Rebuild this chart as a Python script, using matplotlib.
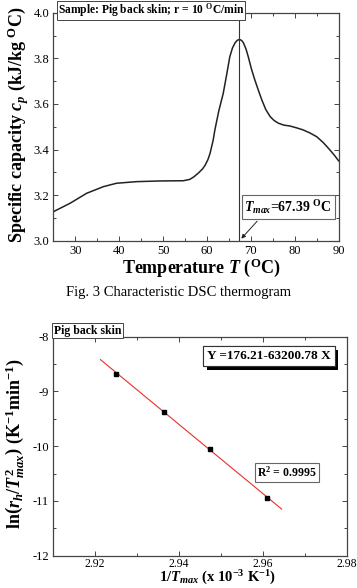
import matplotlib
matplotlib.use("Agg")
import matplotlib.pyplot as plt
import matplotlib.patheffects as pe
from matplotlib.ticker import MultipleLocator

plt.rcParams['font.family'] = ['Liberation Serif', 'DejaVu Serif']
plt.rcParams['mathtext.fontset'] = 'custom'
plt.rcParams['mathtext.rm'] = 'Liberation Serif:bold'
plt.rcParams['mathtext.it'] = 'Liberation Serif:italic:bold'
plt.rcParams['mathtext.bf'] = 'Liberation Serif:bold'
plt.rcParams['axes.unicode_minus'] = False

# DSC curve
temp = [25, 28.8, 32.6, 36.4, 39.4, 44.0, 49.3, 54.6, 56.1, 57.0, 58.0, 59.0,
        59.6, 60.2, 60.7, 61.4, 61.8, 62.7, 63.7, 64.5, 65.2, 65.8, 66.4,
        66.9, 67.4, 67.9, 68.3, 68.9, 69.4, 70.1, 70.9, 71.7, 72.5, 73.4,
        74.4, 75.3, 76.3, 77.5, 78.9, 80.4, 81.9, 83.5, 85.0, 86.5, 88.0,
        89.0, 90.0]
cp = [3.127, 3.164, 3.208, 3.237, 3.252, 3.259, 3.262, 3.263, 3.269, 3.28,
      3.296, 3.315, 3.332, 3.355, 3.383, 3.44, 3.486, 3.57, 3.646, 3.73,
      3.807, 3.845, 3.868, 3.879, 3.883, 3.878, 3.868, 3.84, 3.807, 3.755,
      3.705, 3.66, 3.617, 3.575, 3.544, 3.527, 3.515, 3.507, 3.503, 3.495,
      3.486, 3.472, 3.456, 3.43, 3.398, 3.375, 3.35]
t_max = 67.39

# Kissinger plot points
inv_t = [2.9250, 2.9365, 2.9473, 2.9611]
ln_rate = [-8.681, -9.370, -10.051, -10.952]
fit_a, fit_b = 176.21, -63200.78
fit_x = [2.9213, 2.9645]

fig = plt.figure(figsize=(3.57, 5.88), dpi=100)
W, H = 357, 588


def style_axes(ax):
    ax.tick_params(which='both', direction='in', top=True, right=True,
                   labelsize=9, width=0.7, color='#444444')
    ax.tick_params(which='major', length=3.5, pad=3)
    ax.tick_params(which='minor', length=2)
    for s in ax.spines.values():
        s.set_linewidth(0.9)
        s.set_color('#444444')


# ---- top panel: DSC thermogram ----
ax1 = fig.add_axes([53.3 / W, 1 - 240.7 / H, 285.4 / W, 228 / H])
ax1.plot(temp, cp, color='#222222', lw=1.1)
ax1.axvline(t_max, color='#333333', lw=0.8)
ax1.set_xlim(25, 90)
ax1.set_ylim(3.0, 4.0)
ax1.xaxis.set_major_locator(MultipleLocator(10))
ax1.xaxis.set_minor_locator(MultipleLocator(5))
ax1.yaxis.set_major_locator(MultipleLocator(0.2))
ax1.yaxis.set_minor_locator(MultipleLocator(0.1))
style_axes(ax1)

fig.text(58 / W, 1 - 1.5 / H, r'Sample: Pig back skin; r = 10 $^{\mathrm{O}}$C/min',
         fontsize=8.3, fontweight='bold', ha='left', va='top',
         bbox=dict(boxstyle='square,pad=0.06', fc='white', ec='#444444', lw=0.7))

ax1.annotate(r'$T_{max}$=67.39 $^{\mathrm{O}}$C', xy=(t_max, 3.0),
             xytext=(0.823, 0.148), textcoords='axes fraction',
             fontsize=10, fontweight='bold', ha='center', va='center',
             bbox=dict(boxstyle='square,pad=0.2', fc='white', ec='#666666', lw=0.8),
             arrowprops=dict(arrowstyle='-|>', color='#222222', lw=0.7,
                             mutation_scale=6, relpos=(0.2, 0.0)))

fig.text(18 / W, 1 - 125 / H,
         r'Specific capacity $c_p$ (kJ/kg $^{\mathrm{O}}$C)',
         rotation=90, fontsize=13, fontweight='bold', ha='center', va='center')
fig.text(201 / W, 1 - 268 / H, r'Temperature $T$ ($^{\mathrm{O}}$C)',
         fontsize=13, fontweight='bold', ha='center', va='center')
fig.text(0.5, 1 - 293 / H, 'Fig. 3 Characteristic DSC thermogram',
         fontsize=10.5, ha='center', va='center')

# ---- bottom panel: Kissinger plot ----
ax2 = fig.add_axes([53 / W, 1 - 555.7 / H, 293.7 / W, 219 / H])
fit_y = [fit_a + fit_b * x * 1e-3 for x in fit_x]
ax2.plot(fit_x, fit_y, color='#e8302a', lw=0.8)
ax2.plot(inv_t, ln_rate, 's', color='black', ms=3.5)
ax2.set_xlim(2.91, 2.98)
ax2.set_ylim(-12, -8)
ax2.xaxis.set_major_locator(MultipleLocator(0.02))
ax2.xaxis.set_minor_locator(MultipleLocator(0.01))
ax2.yaxis.set_major_locator(MultipleLocator(1))
ax2.yaxis.set_minor_locator(MultipleLocator(0.5))
style_axes(ax2)
ax2.tick_params(axis='x', which='major', pad=1.5, labelsize=8.5)

ax2.text(0.004, 1.0, 'Pig back skin', transform=ax2.transAxes,
         fontsize=8.5, fontweight='bold', ha='left', va='bottom',
         bbox=dict(boxstyle='square,pad=0.15', fc='white', ec='#444444', lw=0.7))

eq = ax2.text(0.736, 0.9105, 'Y =176.21-63200.78 X', transform=ax2.transAxes,
              fontsize=9.5, fontweight='bold', ha='center', va='center',
              bbox=dict(boxstyle='square,pad=0.3', fc='white', ec='#333333', lw=0.8))
eq.get_bbox_patch().set_path_effects(
    [pe.withSimplePatchShadow(offset=(2.5, -2.5), shadow_rgbFace='black', alpha=1.0),
     pe.Normal()])

ax2.text(0.7957, 0.380, r'R$^2$ = 0.9995', transform=ax2.transAxes,
         fontsize=8.5, fontweight='bold', ha='center', va='center',
         bbox=dict(boxstyle='square,pad=0.2', fc='white', ec='#666666', lw=0.8))

fig.text(15 / W, 1 - 444 / H,
         r'ln$\left(r_h/T^2_{max}\right)$ (K$^{-1}$min$^{-1}$)',
         rotation=90, fontsize=13, fontweight='bold', ha='center', va='center')
fig.text(218 / W, 1.0 / H, r'1/$T_{max}$ (x 10$^{-3}$ K$^{-1}$)',
         fontsize=10.5, fontweight='bold', ha='center', va='bottom')

fig.savefig('out.png', dpi=100)
